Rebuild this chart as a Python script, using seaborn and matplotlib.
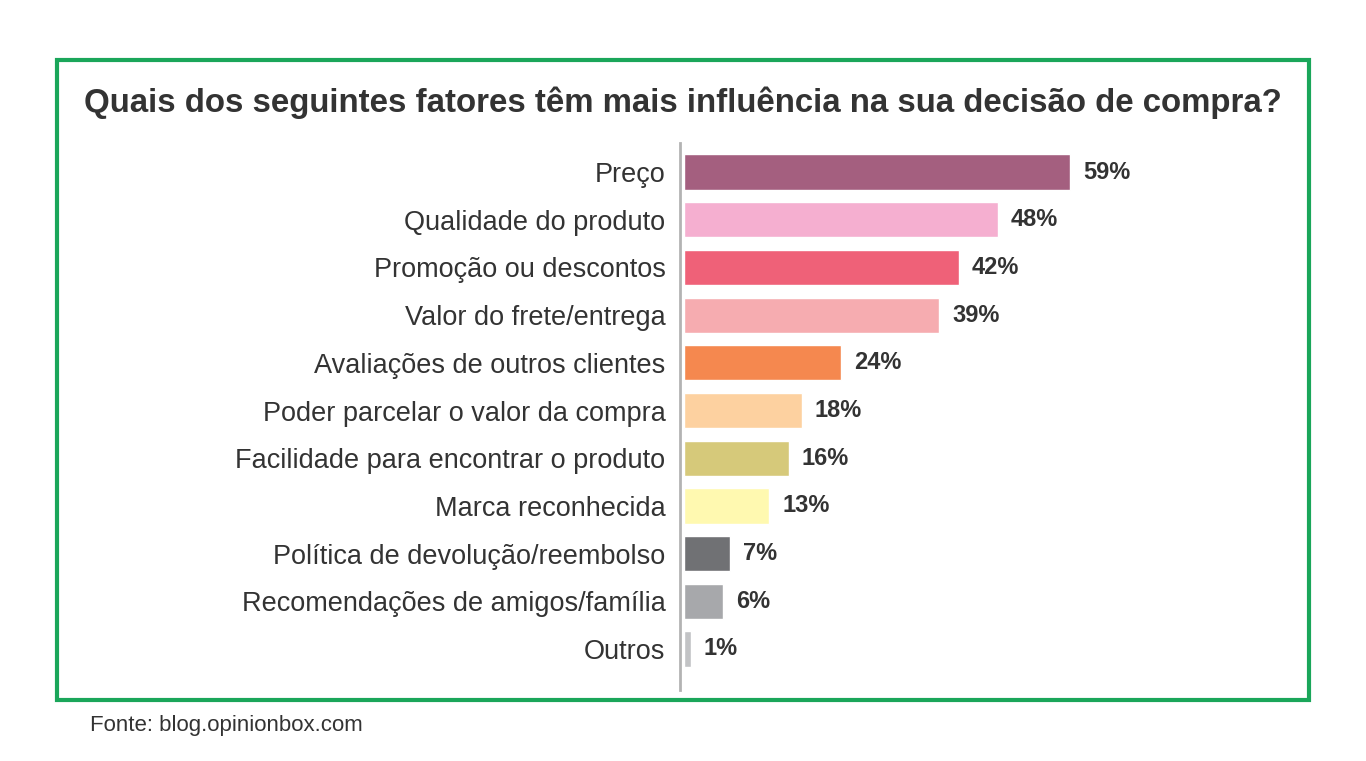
import pandas as pd
import seaborn as sns
import matplotlib.pyplot as plt
from matplotlib.patches import Rectangle

# data
categories = ['Preço', 'Qualidade do produto', 'Promoção ou descontos',
              'Valor do frete/entrega', 'Avaliações de outros clientes',
              'Poder parcelar o valor da compra',
              'Facilidade para encontrar o produto', 'Marca reconhecida',
              'Política de devolução/reembolso',
              'Recomendações de amigos/família', 'Outros']
values = [59, 48, 42, 39, 24, 18, 16, 13, 7, 6, 1]
colors = ['#a45f7f', '#f5afd0', '#ef6178', '#f6acb0', '#f5884f', '#fdd1a0',
          '#d6c97a', '#fff9b0', '#707174', '#a7a8ab', '#c2c3c5']

df = pd.DataFrame({'fator': categories, 'pct': values})

sns.set_style('white')
plt.rcParams['font.family'] = ['Liberation Sans', 'DejaVu Sans']

W, H = 1366, 761
fig = plt.figure(figsize=(W / 100, H / 100), dpi=100)
fig.patch.set_facecolor('white')

# axes placed in pixel terms: left edge is the grey axis line
x0, x1 = 680, 1300
y_top, y_bot = 143, 690
ax = fig.add_axes([x0 / W, 1 - y_bot / H, (x1 - x0) / W, (y_bot - y_top) / H])

sns.barplot(data=df, x='pct', y='fator', hue='fator', palette=colors,
            legend=False, orient='h', width=0.74, ax=ax, saturation=1)

px = 386 / 59  # pixels per percent
ax.set_xlim(-4 / px, (x1 - x0 - 4) / px)
ax.set_ylim(10.86, -0.61)

for i, v in enumerate(values):
    ax.text(v + 13 / px, i, f'{v}%', va='center', ha='left',
            fontsize=17, fontweight='bold', color='#333333')

for s in ['top', 'right', 'bottom']:
    ax.spines[s].set_visible(False)
ax.spines['left'].set_color('#b3b3b3')
ax.spines['left'].set_linewidth(2)
ax.set_xticks([])
ax.set_xlabel('')
ax.set_ylabel('')
ax.tick_params(axis='y', length=0, pad=10.5, labelsize=19.5, labelcolor='#333333')

# title, border and source
fig.text(683 / W, 1 - 103 / H,
         'Quais dos seguintes fatores têm mais influência na sua decisão de compra?',
         ha='center', va='center', fontsize=23.8, fontweight='bold', color='#333333')
fig.add_artist(Rectangle((57 / W, 1 - 700 / H), (1309 - 57) / W, (700 - 60) / H,
                         transform=fig.transFigure, fill=False,
                         edgecolor='#1aa65a', linewidth=3))
fig.text(90 / W, 1 - 725 / H, 'Fonte: blog.opinionbox.com', ha='left', va='center',
         fontsize=16, color='#333333')

plt.savefig('out.png', dpi=100)
